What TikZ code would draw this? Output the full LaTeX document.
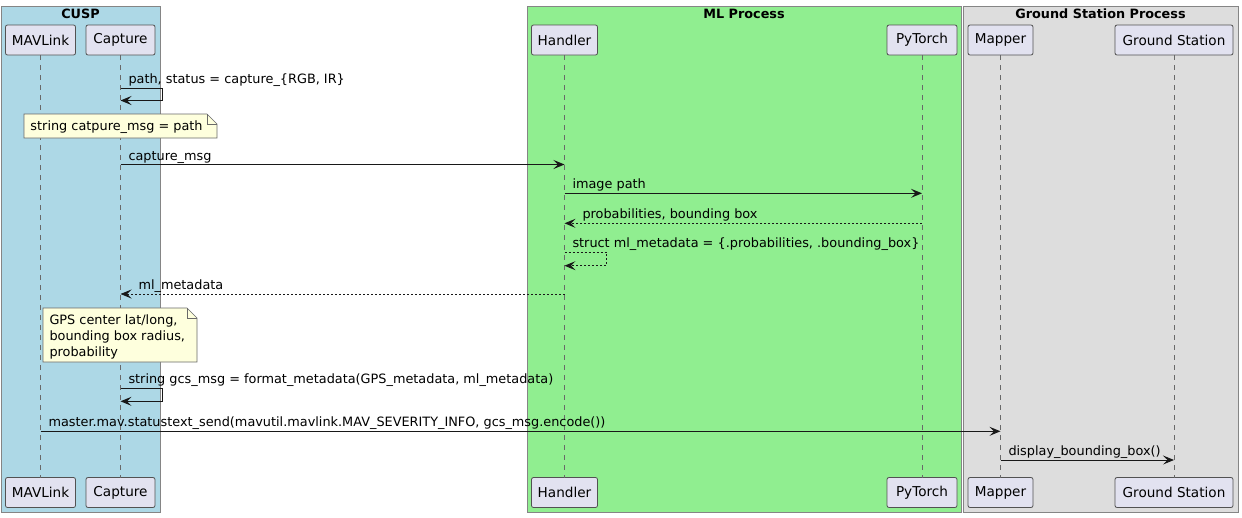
\documentclass[tikz,border=0pt]{standalone}
\usepackage{fontspec}
\setmainfont{DejaVu Sans}
\usetikzlibrary{calc,arrows.meta}

\definecolor{cuspblue}{HTML}{ADD8E6}
\definecolor{mlgreen}{HTML}{90EE90}
\definecolor{gsgray}{HTML}{DDDDDD}
\definecolor{partfill}{HTML}{E2E2F0}
\definecolor{notefill}{HTML}{FEFFDD}
\definecolor{umlline}{HTML}{181818}
\definecolor{boxline}{HTML}{858585}

\begin{document}
\begin{tikzpicture}[x=1pt, y=-1pt, inner sep=0pt, outer sep=0pt,
    every node/.style={font=\fontsize{12.85}{16}\selectfont, text=black},
    participant/.style={draw=umlline!75, fill=partfill, rounded corners=2pt, line width=0.8pt,
        minimum height=30pt, font=\fontsize{13.6}{16}\selectfont},
    lifeline/.style={draw=umlline!65, line width=0.8pt, dash pattern=on 5pt off 5pt},
    group/.style={draw=boxline, line width=1pt},
    grouptitle/.style={font=\fontsize{12.8}{15}\selectfont\bfseries},
    msg/.style={draw=umlline, line width=1pt, -{Stealth[length=11pt,width=9pt,inset=4.5pt]}},
    ret/.style={msg, dash pattern=on 2pt off 2pt},
    lbl/.style={anchor=base west},
    notebox/.style={draw=umlline!65, fill=notefill, line width=0.6pt}]

    \fill[white] (0,0) rectangle (1242,517);
    \useasboundingbox (0,0) rectangle (1242,517);

    % process boxes
    \draw[group, fill=cuspblue] (1,6) rectangle (160,512);
    \node[grouptitle] (cusp_cap) at (80.5,14) {CUSP};
    \draw[group, fill=mlgreen] (527,6) rectangle (961,512);
    \node[grouptitle] (ml_cap) at (744,14) {ML Process};
    \draw[group, fill=gsgray] (963,6) rectangle (1238,512);
    \node[grouptitle] (gs_cap) at (1100.5,14) {Ground Station Process};

    % participants and lifelines
    \foreach \name/\x/\w/\txt in {mavlink/40.5/70/MAVLink, capture/120.5/69/Capture,
        handler/564.5/66/Handler, pytorch/922/70/PyTorch,
        mapper/1000.5/65/Mapper, ground/1174/118/Ground Station}
    {
        \node[participant, minimum width=\w pt] (\name_top) at (\x,40) {\txt};
        \node[participant, minimum width=\w pt] (\name_bot) at (\x,492.5) {\txt};
        \draw[lifeline] (\name_top) -- (\name_bot);
    }

    % message rows
    \coordinate (r1) at (0,88);
    \coordinate (r2) at (0,164.5);
    \coordinate (r3) at (0,193.3);
    \coordinate (r4) at (0,223.3);
    \coordinate (r5) at (0,252.3);
    \coordinate (r6) at (0,294);
    \coordinate (r7) at (0,388);
    \coordinate (r8) at (0,431.3);
    \coordinate (r9) at (0,460);

    % capture
    \draw[msg] (capture_top |- r1) -- ++(42,0) -- ++(0,12.5) -- ++(-42,0);
    \node[lbl] (m1_lbl) at ($(capture_top |- r1)+(8,-4.5)$) {path, status = capture\_\{RGB, IR\}};

    % note: capture msg
    \coordinate (note1_nw) at (24,114);
    \coordinate (note1_se) at (217,138);
    \draw[notebox] (note1_nw) -- ($(note1_nw -| note1_se)+(-10,0)$) -- ($(note1_nw -| note1_se)+(0,10)$)
        -- (note1_se) -- (note1_nw |- note1_se) -- cycle;
    \draw[notebox, fill=none] ($(note1_nw -| note1_se)+(-10,0)$) |- ($(note1_nw -| note1_se)+(0,10)$);
    \node[lbl] (note1) at ($(note1_nw)+(6.5,16.5)$) {string catpure\_msg = path};

    % ml process
    \draw[msg] (capture_top |- r2) -- (handler_top |- r2);
    \node[lbl] (m2_lbl) at ($(capture_top |- r2)+(8,-4.5)$) {capture\_msg};
    \draw[msg] (handler_top |- r3) -- (pytorch_top |- r3);
    \node[lbl] (m3_lbl) at ($(handler_top |- r3)+(8,-4.5)$) {image path};
    \draw[ret] (pytorch_top |- r4) -- (handler_top |- r4);
    \node[lbl] (m4_lbl) at ($(handler_top |- r4)+(18,-4.5)$) {probabilities, bounding box};
    \draw[ret] (handler_top |- r5) -- ++(42,0) -- ++(0,13.4) -- ++(-42,0);
    \node[lbl] (m5_lbl) at ($(handler_top |- r5)+(8,-4.5)$) {struct ml\_metadata = \{.probabilities, .bounding\_box\}};
    \draw[ret] (handler_top |- r6) -- (capture_top |- r6);
    \node[lbl] (m6_lbl) at ($(capture_top |- r6)+(18,-4.5)$) {ml\_metadata};

    % note: gps metadata
    \coordinate (note2_nw) at (43,308);
    \coordinate (note2_se) at (197,362);
    \draw[notebox] (note2_nw) -- ($(note2_nw -| note2_se)+(-10,0)$) -- ($(note2_nw -| note2_se)+(0,10)$)
        -- (note2_se) -- (note2_nw |- note2_se) -- cycle;
    \draw[notebox, fill=none] ($(note2_nw -| note2_se)+(-10,0)$) |- ($(note2_nw -| note2_se)+(0,10)$);
    \node[anchor=north west, align=left] (note2) at ($(note2_nw)+(6.5,6.5)$)
        {GPS center lat/long,\\bounding box radius,\\probability};

    % ground station
    \draw[msg] (capture_top |- r7) -- ++(42,0) -- ++(0,13.3) -- ++(-42,0);
    \node[lbl] (m7_lbl) at ($(capture_top |- r7)+(8,-4.5)$) {string gcs\_msg = format\_metadata(GPS\_metadata, ml\_metadata)};
    \draw[msg] (mavlink_top |- r8) -- (mapper_top |- r8);
    \node[lbl] (m8_lbl) at ($(mavlink_top |- r8)+(8,-4.5)$) {master.mav.statustext\_send(mavutil.mavlink.MAV\_SEVERITY\_INFO, gcs\_msg.encode())};
    \draw[msg] (mapper_top |- r9) -- (ground_top |- r9);
    \node[lbl] (m9_lbl) at ($(mapper_top |- r9)+(8,-4.5)$) {display\_bounding\_box()};

\end{tikzpicture}
\end{document}
